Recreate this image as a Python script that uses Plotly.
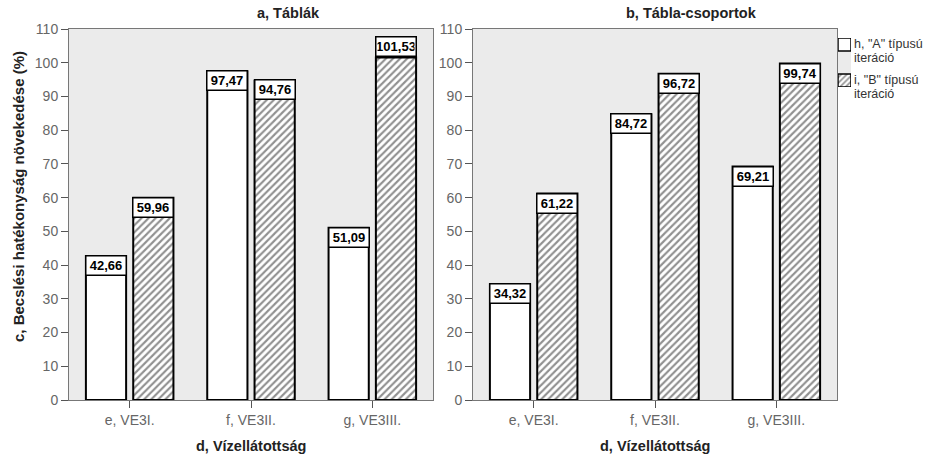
import plotly.graph_objects as go
from plotly.subplots import make_subplots

categories = ["e, VE3I.", "f, VE3II.", "g, VE3III."]
tablak_A = [42.66, 97.47, 51.09]
tablak_B = [59.96, 94.76, 101.53]
csoport_A = [34.32, 84.72, 69.21]
csoport_B = [61.22, 96.72, 99.74]
y_ticks = list(range(0, 111, 10))
panel_titles = ["a, Táblák", "b, Tábla-csoportok"]
x_title = "d, Vízellátottság"
y_title = "c, Becslési hatékonyság növekedése (%)"
legend_lines = [["h, \"A\" típusú", "iteráció"], ["i, \"B\" típusú", "iteráció"]]
legend_patterns = ["", "/"]

W, H = 930, 454
FONT = "Liberation Sans, Arial, sans-serif"

fig = make_subplots(rows=1, cols=2)

PATTERN = dict(shape="/", fgcolor="#222222", bgcolor="white", size=5, solidity=0.42)

def add_pair(a_vals, b_vals, col):
    fig.add_trace(go.Bar(
        x=categories, y=a_vals, showlegend=False,
        marker=dict(color="white", line=dict(color="black", width=2)),
    ), row=1, col=col)
    fig.add_trace(go.Bar(
        x=categories, y=b_vals, showlegend=False,
        marker=dict(color="white", line=dict(color="black", width=2), pattern=PATTERN),
    ), row=1, col=col)

add_pair(tablak_A, tablak_B, 1)
add_pair(csoport_A, csoport_B, 2)

# legend swatches drawn on a small inset axis
sw_px, step_px = 13, 36
half = (sw_px / 2) / step_px
fig.add_trace(go.Bar(
    x=[1] * len(legend_patterns), y=list(range(len(legend_patterns))), orientation="h",
    width=sw_px / step_px, xaxis="x3", yaxis="y3", showlegend=False, hoverinfo="skip",
    marker=dict(color="white", line=dict(color="black", width=1.5),
                pattern=dict(shape=legend_patterns, fgcolor="#222222", bgcolor="white",
                             size=4, solidity=0.42)),
))

x_dom1 = [69 / W, 433 / W]
x_dom2 = [473 / W, 837 / W]
y_dom = [1 - 400 / H, 1 - 29 / H]
leg_top = 38
leg_bot = leg_top + sw_px + step_px * (len(legend_patterns) - 1)

axis_common = dict(showline=True, linecolor="#777777", linewidth=1, mirror=True,
                   ticks="outside", ticklen=7, tickcolor="#555555",
                   tickfont=dict(family=FONT, size=14, color="#666666"),
                   showgrid=False, zeroline=False)

fig.update_xaxes(**axis_common)
fig.update_yaxes(**axis_common, range=[0, 110], tickvals=y_ticks)
hidden = dict(visible=False, showgrid=False, zeroline=False, fixedrange=True)
fig.update_layout(
    xaxis=dict(domain=x_dom1), xaxis2=dict(domain=x_dom2),
    yaxis=dict(domain=y_dom), yaxis2=dict(domain=y_dom),
    xaxis3=dict(domain=[838 / W, (838 + sw_px) / W], range=[0, 1], anchor="y3", **hidden),
    yaxis3=dict(domain=[1 - leg_bot / H, 1 - leg_top / H],
                range=[len(legend_patterns) - 1 + half, -half], anchor="x3", **hidden),
)

fig.update_layout(
    width=W, height=H,
    margin=dict(l=0, r=0, t=0, b=0, autoexpand=False),
    paper_bgcolor="white", plot_bgcolor="#ebebeb",
    barmode="group", bargap=0.22, bargroupgap=0.15,
    font=dict(family=FONT, color="#333333"),
    showlegend=False,
)

# value label boxes
slot_px = (364 / 3) * (1 - 0.22) / 2
anns = []
for col, (avals, bvals) in enumerate([(tablak_A, tablak_B), (csoport_A, csoport_B)], start=1):
    xr = "x" if col == 1 else "x2"
    yr = "y" if col == 1 else "y2"
    for vals, sh in ((avals, -slot_px / 2), (bvals, slot_px / 2)):
        for c, v in zip(categories, vals):
            above = v > 100
            anns.append(dict(
                x=c, y=v, xref=xr, yref=yr, xshift=sh,
                yshift=1,
                yanchor="bottom" if above else "top",
                text="<b>%s</b>" % ("%.2f" % v).replace(".", ","),
                showarrow=False, bgcolor="white", bordercolor="black", borderwidth=1.5,
                borderpad=1, width=37, height=16,
                font=dict(family=FONT, size=13, color="black"),
            ))

# legend texts
for i, lines in enumerate(legend_lines):
    for j, line in enumerate(lines):
        anns.append(dict(x=852 / W, y=1 - (44 + step_px * i + 14 * j) / H, xref="paper", yref="paper",
                         xanchor="left", yanchor="middle", text=line, showarrow=False,
                         font=dict(family=FONT, size=12.5, color="#333333")))

# panel titles, axis titles
anns.append(dict(x=288 / W, y=1 - 13 / H, xref="paper", yref="paper", text="<b>%s</b>" % panel_titles[0],
                 xanchor="center", yanchor="middle",
                 showarrow=False, font=dict(family=FONT, size=14.5, color="#222222")))
anns.append(dict(x=691 / W, y=1 - 13 / H, xref="paper", yref="paper", text="<b>%s</b>" % panel_titles[1],
                 xanchor="center", yanchor="middle",
                 showarrow=False, font=dict(family=FONT, size=14.5, color="#222222")))
for cx in (251, 655):
    anns.append(dict(x=cx / W, y=1 - 446 / H, xref="paper", yref="paper", text="<b>%s</b>" % x_title,
                     xanchor="center", yanchor="middle",
                     showarrow=False, font=dict(family=FONT, size=14.5, color="#222222")))
anns.append(dict(x=19 / W, y=1 - 197 / H, xref="paper", yref="paper", text="<b>%s</b>" % y_title,
                 xanchor="center", yanchor="middle",
                 textangle=-90, showarrow=False, font=dict(family=FONT, size=15, color="#222222")))

fig.update_layout(annotations=anns)
fig.write_html("out.html", config={"displayModeBar": False},
               post_script="document.body.style.margin='0';document.body.style.overflow='hidden';")
